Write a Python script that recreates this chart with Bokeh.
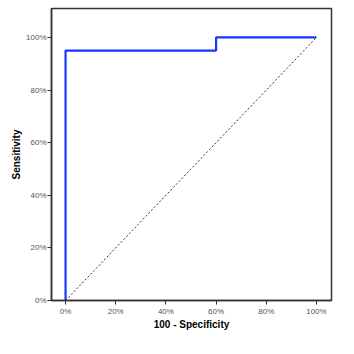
from bokeh.plotting import figure
from bokeh.models import Range1d, FixedTicker, CustomJSTickFormatter
from bokeh.embed import file_html
from bokeh.resources import INLINE

# ROC curve data (in %)
fpr = [0, 0, 60, 60, 100]
tpr = [0, 95, 95, 100, 100]
ref_x = [0, 100]
ref_y = [0, 100]
tick_vals = [0, 20, 40, 60, 80, 100]

p = figure(width=354, height=354, output_backend="svg", toolbar_location=None,
           x_range=Range1d(-5.6, 106), y_range=Range1d(0, 111))
p.min_border_left = 51
p.min_border_right = 23
p.min_border_top = 8
p.min_border_bottom = 54
p.background_fill_color = "white"
p.border_fill_color = "white"
p.grid.visible = False
p.outline_line_color = "#333333"
p.outline_line_width = 1.5

p.line(ref_x, ref_y, line_color="black", line_dash="2 2", line_width=0.8)
p.line(fpr, tpr, line_color="#1a35ff", line_width=2.2)

fmt = CustomJSTickFormatter(code="return tick + '%';")
for ax in (p.xaxis[0], p.yaxis[0]):
    ax.ticker = FixedTicker(ticks=tick_vals)
    ax.formatter = fmt
    ax.minor_tick_line_color = None
    ax.major_tick_in = 0
    ax.major_tick_out = 4
    ax.axis_line_color = "#333333"
    ax.axis_line_width = 1.5
    ax.major_tick_line_color = "#333333"
    ax.major_label_text_font = "Liberation Sans"
    ax.major_label_text_font_size = "8px"
    ax.major_label_text_color = "#555555"
    ax.axis_label_text_font = "Liberation Sans"
    ax.axis_label_text_font_size = "10px"
    ax.axis_label_text_font_style = "bold"
    ax.axis_label_text_color = "black"

p.xaxis.axis_label = "100 - Specificity"
p.yaxis.axis_label = "Sensitivity"
p.xaxis.axis_label_standoff = 0
p.yaxis.axis_label_standoff = 1
p.xaxis.major_label_standoff = 2
p.yaxis.major_label_standoff = 1

open("out.html", "w").write(file_html(p, INLINE))
